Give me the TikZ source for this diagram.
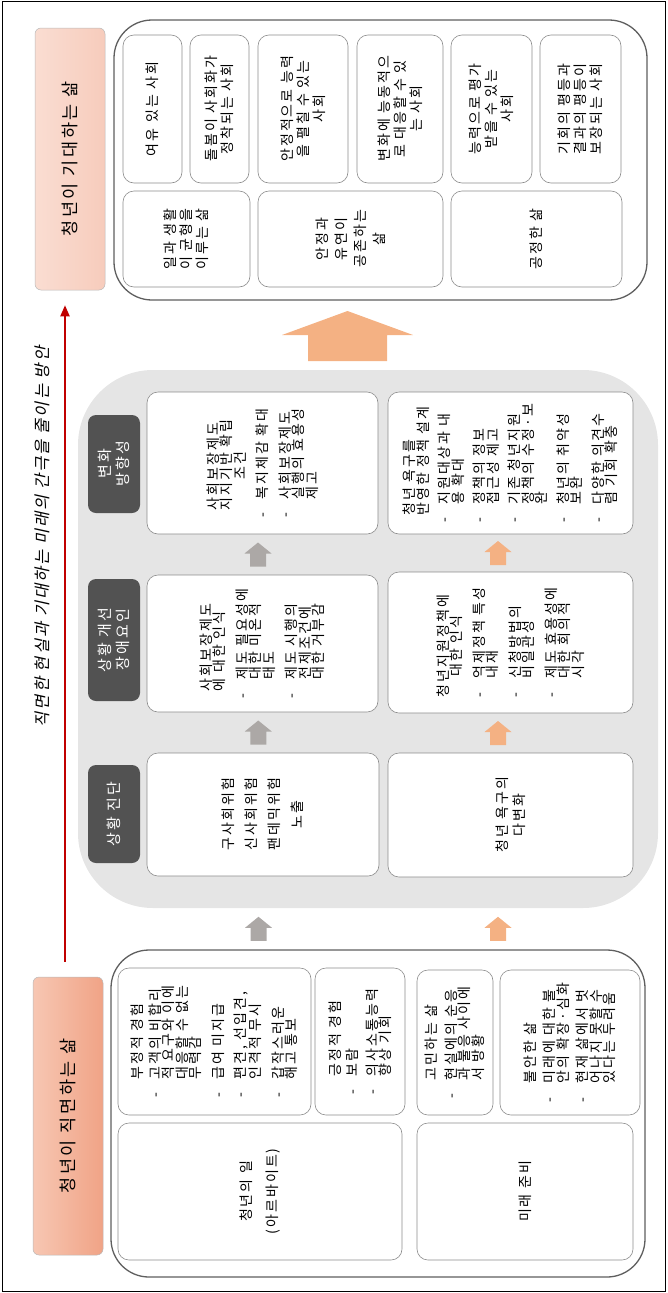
\documentclass[tikz,border=0pt]{standalone}
\usepackage{fontspec}
\setmainfont{Noto Sans CJK KR}[LetterSpace=15]
\newfontfamily\slantkr{Noto Sans CJK KR}[FakeSlant=0.22,LetterSpace=12]
\usetikzlibrary{fit,calc,arrows.meta}

\definecolor{pinkL}{RGB}{250,221,210}
\definecolor{pinkR}{RGB}{247,204,188}
\definecolor{salmonL}{RGB}{247,199,179}
\definecolor{salmonR}{RGB}{240,163,134}
\definecolor{regiongray}{RGB}{229,229,229}
\definecolor{taggray}{RGB}{82,82,82}
\definecolor{cellline}{RGB}{140,140,140}
\definecolor{outerline}{RGB}{95,95,95}
\definecolor{arroworange}{RGB}{244,177,131}
\definecolor{arrowgray}{RGB}{172,168,166}
\definecolor{gapred}{RGB}{192,0,0}

% helpers for the bulleted texts
\newlength\cuw
\newcommand\centerunder[2]{\settowidth{\cuw}{#1}\makebox[\cuw][c]{#2}}
\newcommand\bul{\makebox[1.3em][l]{-}}
\newcommand\hang{\hspace*{1.3em}}

% block arrow pointing up, #1 colour, #2 centre
\newcommand\smallup[2]{%
  \fill[#1,shift={#2}] (-8,12) -- (-8,-1) -- (-13.5,-1) -- (0,-12) -- (13.5,-1) -- (8,-1) -- (8,12) -- cycle;}

\tikzset{
  frameline/.style={draw=black, line width=0.8pt},
  titlebox/.style={draw=gray!55, line width=0.5pt, rounded corners=6pt, inner sep=0pt},
  titletext/.style={rotate=90, inner sep=0pt, font=\fontsize{17.5}{20}\selectfont},
  group/.style={draw=outerline, line width=1.3pt, fill=white, rounded corners=38pt, inner sep=0pt},
  cell/.style={draw=cellline, line width=0.6pt, fill=white, rounded corners=11pt, inner sep=0pt},
  region/.style={fill=regiongray, rounded corners=75pt, inner sep=0pt},
  tag/.style={fill=taggray, rounded corners=8pt, inner sep=0pt},
  tagtext/.style={rotate=90, align=center, text=white, inner sep=0pt, font=\fontsize{15}{18}\selectfont},
  body/.style={rotate=90, align=left, inner sep=0pt, font=\fontsize{14}{13.5}\selectfont},
  cbody/.style={body, align=center},
  wish/.style={rotate=90, align=center, inner sep=0pt, font=\fontsize{14}{16}\selectfont},
  gaparrow/.style={draw=gapred, line width=2pt, -{Triangle[length=11pt,width=9pt]}},
  gaplabel/.style={rotate=90, inner sep=0pt, font=\slantkr\fontsize{16.5}{18}\selectfont},
}

\begin{document}
\begin{tikzpicture}[x=1pt,y=-1pt]
\useasboundingbox (0,0) rectangle (667,1293);
\draw[frameline] (2,1) rectangle (665,1291);

% ---------- titles on the left edge ----------
\node[titlebox, left color=pinkL, right color=pinkR, fit={(35,28) (105,290)}] (hopeTitle) {};
\node[titletext] (hopeText) at (hopeTitle.center) {청년이 기대하는 삶};
\node[titlebox, left color=salmonL, right color=salmonR, fit={(33,977) (103,1255)}] (faceTitle) {};
\node[titletext] (faceText) at (faceTitle.center) {청년이 직면하는 삶};

% ---------- gap arrow ----------
\coordinate (gapStart) at ($(faceTitle.north)+(-3,-15)$);
\coordinate (gapEnd) at ($(hopeTitle.south)+(-5,15)$);
\draw[gaparrow] (gapStart) -- (gapEnd);
\node[gaplabel] (gapText) at (42,537) {직면한 현실과 기대하는 미래의 간극을 줄이는 방안};

% ---------- expected life (top) ----------
\node[group, fit={(114,20) (647,300)}] (hopeGroup) {};
\node[cell, fit={(123,35) (182,183)}] (w1) {};
\node[cell, fit={(190,35) (249,183)}] (w2) {};
\node[cell, fit={(258,35) (348,183)}] (w3) {};
\node[cell, fit={(357,35) (443,183)}] (w4) {};
\node[cell, fit={(451,35) (532,183)}] (w5) {};
\node[cell, fit={(540,35) (621,183)}] (w6) {};
\node[cell, fit={(123,191) (250,287)}] (v1) {};
\node[cell, fit={(258,191) (443,287)}] (v2) {};
\node[cell, fit={(451,191) (622,287)}] (v3) {};
\node[wish] (w1t) at (w1.center) {여유 있는 사회};
\node[wish] (w2t) at (w2.center) {돌봄이 사회화가\\정착되는 사회};
\node[wish] (w3t) at (w3.center) {안정적으로 능력\\을 펼칠 수 있는\\사회};
\node[wish] (w4t) at (w4.center) {변화에 능동적으\\로 대응할 수 있\\는 사회};
\node[wish] (w5t) at (w5.center) {능력으로 평가\\받을 수 있는\\사회};
\node[wish] (w6t) at (w6.center) {기회의 평등과\\결과의 평등이\\보장되는 사회};
\node[wish] (v1t) at (v1.center) {일과 생활\\이 균형을\\이루는 삶};
\node[wish, font=\fontsize{14}{19}\selectfont] (v2t) at (v2.center) {안정과\\유연이\\공존하는\\삶};
\node[wish] (v3t) at (v3.center) {공정한 삶};

% ---------- big arrow ----------
\fill[arroworange, shift={(347.5,336)}] (-39.5,25) -- (-39.5,-1) -- (-65.5,-1) -- (0,-25)
  -- (65.5,-1) -- (39.5,-1) -- (39.5,25) -- cycle;

% ---------- strategy region (middle) ----------
\node[region, fit={(78,370) (658,908)}] (region) {};
\node[tag, fit={(88,415) (140,513)}] (tagDir) {};
\node[tag, fit={(88,579) (140,701)}] (tagObs) {};
\node[tag, fit={(88,765) (140,863)}] (tagDiag) {};
\node[tagtext] (tagDirT) at (tagDir.center) {변화\\방향성};
\node[tagtext] (tagObsT) at (tagObs.center) {상황 개선\\장애요인};
\node[tagtext] (tagDiagT) at (tagDiag.center) {상황 진단};

\node[cell, fit={(147,392) (378,534)}] (c1top) {};
\node[cell, fit={(147,575) (378,712)}] (c1mid) {};
\node[cell, fit={(147,753) (379,876)}] (c1bot) {};
\node[cell, fit={(388,392) (633,534)}] (c2top) {};
\node[cell, fit={(388,572) (633,713)}] (c2mid) {};
\node[cell, fit={(388,753) (633,877)}] (c2bot) {};

\node[body] (c1topT) at (c1top.center) {%
  \hspace*{0.5em}사회보장제도\\
  \hspace*{0.5em}지지기반 확립\\
  \hspace*{0.5em}\centerunder{지지기반 확립}{조건}\\[9pt]
  \bul 복지체감 확대\\[9pt]
  \bul 사회보장제도\\ \hang 실행의 효용성\\ \hang 제고};
\node[body] (c1midT) at (c1mid.center) {%
  \hspace*{0.5em}사회보장제도\\
  \hspace*{0.5em}에 대한 인식\\[9pt]
  \bul 제도 필요성에\\ \hang 대한 미온적\\ \hang 태도\\[9pt]
  \bul 제도 시행의\\ \hang 전제조건에\\ \hang 대한 거부감};
\node[cbody, font=\fontsize{14}{23}\selectfont] (c1botT) at (c1bot.center) {구사회위험\\신사회위험\\팬데믹위험\\노출};
\node[body] (c2topT) at (c2top.center) {%
  \hspace*{0.5em}청년 욕구를\\
  \hspace*{0.5em}반영한 정책 설계\\[8pt]
  \bul 지원대상과 내\\ \hang 용 확대\\[8pt]
  \bul 정책의 정보\\ \hang 접근성 제고\\[8pt]
  \bul 기존 청년지원\\ \hang 정책의 수정·보\\ \hang 완\\[8pt]
  \bul 청년의 취약성\\ \hang 보완\\[8pt]
  \bul 다양한 의견수\\ \hang 렴 기회 확충};
\node[body] (c2midT) at (c2mid.center) {%
  청년지원정책에\\
  \centerunder{청년지원정책에}{대한 인식}\\[9pt]
  \bul 억제정책 특성\\ \hang 내재\\[9pt]
  \bul 신청방법의\\ \hang 비일관성\\[9pt]
  \bul 제도 효용성에\\ \hang 대한 회의적\\ \hang 시각};
\node[cbody, font=\fontsize{14}{17}\selectfont] (c2botT) at (c2bot.center) {청년 욕구의\\다변화};

% arrows inside the region
\smallup{arrowgray}{($(c1top.south)!0.5!(c1mid.north)+(-4.5,0)$)}
\smallup{arrowgray}{($(c1mid.south)!0.5!(c1bot.north)+(-4.5,0)$)}
\smallup{arroworange}{($(c2top.south)!0.5!(c2mid.north)+(-12.5,0)$)}
\smallup{arroworange}{($(c2mid.south)!0.5!(c2bot.north)+(-12.5,0)$)}

% ---------- faced life (bottom) ----------
\node[group, fit={(111,950) (645,1277)}] (faceGroup) {};
\node[cell, fit={(118,968) (311,1115)}] (fA) {};
\node[cell, fit={(315,968) (405,1115)}] (fB) {};
\node[cell, fit={(417,970) (493,1115)}] (fC) {};
\node[cell, fit={(500,970) (640,1115)}] (fD) {};
\node[cell, fit={(118,1123) (402,1260)}] (fE) {};
\node[cell, fit={(417,1123) (633,1260)}] (fF) {};

\node[body] (fAT) at (fA.center) {%
  \hang 부정적 경험\\[4pt]
  \bul 고객의 비합리\\ \hang 적 요구와 이에\\ \hang 대응할 수 없는\\ \hang 무력감\\[9pt]
  \bul 급여 미지급\\[9pt]
  \bul 편견, 선입견,\\ \hang 인격적 무시\\[9pt]
  \bul 갑작스러운\\ \hang 해고 통보};
\node[body] (fBT) at (fB.center) {%
  \hang 긍정적 경험\\[4pt]
  \bul 보람\\[6pt]
  \bul 의사소통능력\\ \hang 향상 기회};
\node[body] (fCT) at (fC.center) {%
  \hang 고민하는 삶\\[6pt]
  \bul 현실에의 순응\\ \hang 과 불응 사이에\\ \hang 서 방황};
\node[body] (fDT) at (fD.center) {%
  \hang 불안한 삶\\[6pt]
  \bul 미래에 대한 불\\ \hang 안의 확장·심화\\[6pt]
  \bul 현재 삶에서 벗\\ \hang 어나지 못할 수\\ \hang 있다는 두려움};
\node[cbody, font=\fontsize{14}{26}\selectfont] (fET) at (fE.center) {청년의 일\\(아르바이트)};
\node[cbody] (fFT) at (fF.center) {미래 준비};

% arrows from the faced life into the region
\smallup{arrowgray}{($(c1bot.south|-region.south)!0.5!(c1bot.south|-faceGroup.north)+(-4.5,0)$)}
\smallup{arroworange}{($(c2bot.south|-region.south)!0.5!(c2bot.south|-faceGroup.north)+(-12.5,0)$)}
\end{tikzpicture}
\end{document}
